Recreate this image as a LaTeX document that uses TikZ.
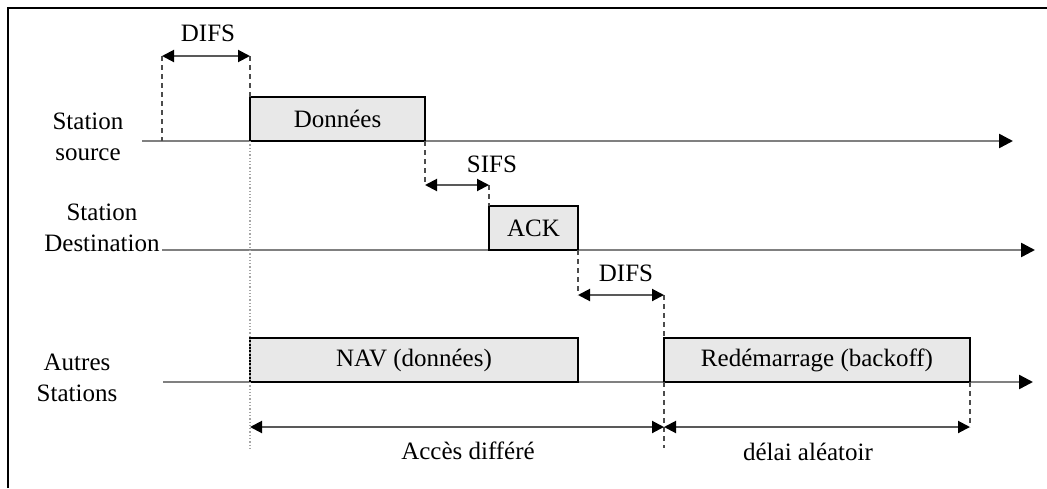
\documentclass[tikz,border=0pt]{standalone}
\usepackage{fontspec}
\setmainfont{Liberation Serif}
\usetikzlibrary{positioning, arrows.meta}

\begin{document}
\begin{tikzpicture}[x=1pt, y=-1pt, every node/.style={font=\fontsize{25}{31}\selectfont}]
  \tikzstyle{trame} = [rectangle, draw=black, line width=1.5pt, fill=gray!18, inner sep=0pt, outer sep=0pt, anchor=south west, minimum height=44pt]
  \tikzstyle{axe} = [draw=gray, line width=2.5pt, -{Triangle[length=14pt, width=14pt, color=black]}]
  \tikzstyle{duree} = [draw=gray!70!black, line width=2pt, {Triangle[length=12pt, width=12pt, color=black]}-{Triangle[length=12pt, width=12pt, color=black]}]
  \tikzstyle{repere} = [draw=gray!60!black, line width=1.3pt, dash pattern=on 5pt off 4pt]
  \tikzstyle{limite} = [draw=gray!70, line width=1.3pt, dotted]

  \useasboundingbox (0,0) rectangle (1047,488);
  \draw [line width=1.5pt] (8,488) -- (8,8) -- (1047,8);

  % stations
  \node (src) [align=center] at (88,137) {Station\\source};
  \node (dst) [align=center] at (102,228) {Station\\Destination};
  \node (oth) [align=center] at (77,378) {Autres\\Stations};

  \coordinate (srcA) at (142,141);
  \coordinate (srcB) at (1013,141);
  \coordinate (dstA) at (162,250);
  \coordinate (dstB) at (1035,250);
  \coordinate (othA) at (163,382);
  \coordinate (othB) at (1033,382);
  \draw [axe] (srcA) -- (srcB);
  \draw [axe] (dstA) -- (dstB);
  \draw [axe] (othA) -- (othB);

  % trames
  \node (data) [trame, minimum width=175pt] at (250,141) {Données};
  \node (ack) [trame, minimum width=89pt] at (489,250) {ACK};
  \node (nav) [trame, minimum width=328pt] at (250,382) {NAV (données)};
  \node (bko) [trame, minimum width=306pt] at (664,382) {Redémarrage (backoff)};

  % DIFS
  \coordinate (difsL) at (162,56);
  \coordinate (difsR) at (250,56);
  \coordinate (finA) at (250,450);
  \draw [repere] (difsL) -- (difsL |- srcA);
  \draw [repere] (difsR) -- (data.north west);
  \draw [limite] (data.south west) -- (finA);
  \draw [duree] (difsL) -- (difsR);
  \node (difs1) at (208,33) {DIFS};

  % SIFS
  \coordinate (sifsL) at (425,185);
  \coordinate (sifsR) at (489,185);
  \draw [repere] (data.south east) -- (sifsL);
  \draw [repere] (sifsR) -- (ack.north west);
  \draw [duree] (sifsL) -- (sifsR);
  \node (sifs) at (492,164) {SIFS};

  % DIFS apres ACK
  \coordinate (difs2L) at (578,295);
  \coordinate (difs2R) at (664,295);
  \coordinate (finB) at (664,448);
  \draw [repere] (ack.south east) -- (difs2L);
  \draw [repere] (difs2R) -- (bko.north west);
  \draw [repere] (bko.south west) -- (finB);
  \draw [duree] (difs2L) -- (difs2R);
  \node (difs2) at (626,273) {DIFS};

  % acces differe / backoff
  \coordinate (accA) at (250,427);
  \coordinate (accB) at (664,427);
  \coordinate (delB) at (970,427);
  \draw [repere] (bko.south east) -- (delB);
  \draw [duree] (accA) -- (accB);
  \draw [duree] (accB) -- (delB);
  \node (acc) at (468,451) {Accès différé};
  \node (del) at (808,452) {délai aléatoir};
\end{tikzpicture}
\end{document}
